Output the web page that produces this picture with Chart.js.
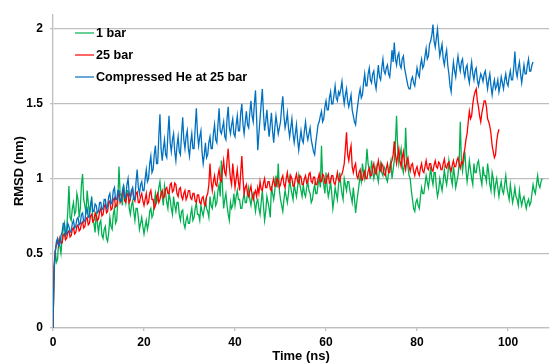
<!DOCTYPE html>
<html>
<head>
<meta charset="utf-8">
<script src="https://cdn.jsdelivr.net/npm/chart.js@4.4.1/dist/chart.umd.min.js"></script>
<style>
  html, body { margin: 0; padding: 0; background: #fff; }
  #wrap { width: 550px; height: 364px; }
</style>
</head>
<body>
<div id="wrap"><canvas id="chart" width="550" height="364"></canvas></div>
<script>
const timeStep = 0.25

const seriesNames = ['1 bar', '25 bar', 'Compressed He at 25 bar']

const bar1 = [
  0, 0.38, 0.52, 0.44, 0.46, 0.58, 0.55, 0.5, 0.6, 0.66, 0.7, 0.62, 0.66, 0.78, 0.95, 0.74, 0.72, 0.8, 0.84, 0.76,
  0.78, 0.9, 0.86, 0.74, 0.8, 0.96, 1.03, 0.86, 0.82, 0.76, 0.92, 0.84, 0.76, 0.82, 0.88, 0.72, 0.7, 0.64, 0.78, 0.7,
  0.64, 0.7, 0.72, 0.62, 0.6, 0.66, 0.68, 0.6, 0.58, 0.64, 0.74, 0.68, 0.66, 0.76, 0.8, 0.7, 0.72, 0.86, 1.08, 0.9,
  0.88, 0.82, 0.96, 0.9, 0.84, 0.92, 0.92, 0.8, 0.76, 0.82, 0.85, 0.78, 0.72, 0.8, 0.8, 0.74, 0.66, 0.7, 0.74, 0.68,
  0.63, 0.68, 0.72, 0.66, 0.7, 0.78, 0.8, 0.74, 0.76, 0.84, 0.9, 0.84, 0.86, 0.94, 0.98, 0.9, 0.88, 0.82, 0.95, 0.9,
  0.84, 0.8, 0.9, 0.86, 0.8, 0.76, 0.88, 0.82, 0.78, 0.84, 0.84, 0.76, 0.72, 0.78, 0.79, 0.7, 0.67, 0.72, 0.75, 0.7,
  0.7, 0.76, 0.8, 0.72, 0.74, 0.8, 0.84, 0.76, 0.76, 0.72, 0.82, 0.78, 0.75, 0.8, 0.85, 0.8, 0.78, 0.74, 0.88, 0.82,
  0.8, 0.86, 0.9, 0.82, 0.84, 0.92, 0.96, 0.88, 1.12, 0.94, 0.8, 0.86, 0.9, 0.82, 0.76, 0.72, 0.84, 0.8, 0.82, 0.9,
  0.82, 0.88, 0.92, 0.86, 0.86, 0.8, 0.8, 0.86, 0.9, 0.84, 0.84, 0.9, 0.94, 0.86, 0.82, 0.88, 0.9, 0.84, 0.78, 0.84,
  0.86, 0.8, 0.76, 0.84, 0.92, 0.82, 0.72, 0.78, 0.88, 0.84, 0.8, 0.74, 0.95, 0.9, 0.86, 0.92, 1.02, 0.94, 1.1, 0.92,
  0.86, 0.82, 0.78, 0.86, 0.92, 0.88, 0.84, 0.9, 1.0, 0.94, 0.9, 0.86, 0.96, 0.92, 0.88, 0.94, 1.02, 0.96, 0.92, 0.88,
  0.96, 0.9, 0.88, 0.94, 0.98, 0.92, 0.9, 0.84, 0.86, 0.92, 0.96, 0.9, 0.9, 0.96, 1.0, 0.94, 1.22, 1.0, 0.96, 0.9,
  1.04, 0.94, 0.88, 0.92, 0.98, 0.9, 0.8, 0.86, 0.94, 0.9, 0.86, 0.96, 1.04, 0.96, 0.9, 0.86, 1.0, 0.96, 0.92, 0.98,
  0.98, 0.92, 0.88, 0.84, 0.94, 0.86, 0.77, 0.84, 0.9, 0.96, 1.02, 0.98, 1.1, 1.04, 1.0, 1.08, 1.2, 1.1, 1.06, 1.0,
  1.12, 1.06, 1.0, 1.04, 1.08, 1.02, 0.98, 1.06, 1.1, 1.04, 1.02, 1.08, 1.06, 1.0, 0.98, 1.04, 1.08, 1.12, 1.0, 1.06,
  1.12, 1.24, 1.42, 1.2, 1.1, 1.16, 1.2, 1.08, 1.04, 1.1, 1.34, 1.14, 1.08, 1.02, 1.0, 0.92, 0.86, 0.8, 0.78, 0.84,
  0.86, 0.82, 0.8, 0.88, 0.94, 0.9, 0.9, 0.96, 1.02, 0.98, 0.94, 1.0, 1.08, 1.0, 0.96, 1.04, 1.04, 0.94, 0.88, 0.92,
  1.0, 0.96, 0.92, 0.98, 1.06, 1.0, 0.96, 1.02, 1.12, 1.06, 1.0, 0.96, 1.08, 1.02, 0.94, 0.98, 1.02, 1.1, 1.38, 1.12,
  1.05, 1.12, 1.18, 1.06, 0.98, 1.04, 1.12, 1.06, 1.0, 0.96, 1.1, 1.04, 1.04, 1.1, 1.12, 1.06, 1.0, 0.96, 1.08, 1.02,
  1.02, 0.98, 1.1, 1.04, 0.96, 0.92, 1.04, 1.0, 0.9, 0.96, 1.0, 0.94, 0.88, 0.94, 0.98, 0.92, 0.9, 0.96, 1.02, 0.94,
  0.9, 0.86, 0.96, 0.9, 0.84, 0.88, 0.94, 0.88, 0.86, 0.82, 0.92, 0.86, 0.82, 0.86, 0.88, 0.84, 0.8, 0.84, 0.86, 0.82,
  0.84, 0.9, 0.96, 0.92, 0.9, 0.96, 1.02, 0.96, 0.94, 0.98, 1.0
]

const bar25 = [
  0, 0.42, 0.52, 0.56, 0.58, 0.55, 0.6, 0.57, 0.57, 0.62, 0.63, 0.59, 0.6, 0.64, 0.65, 0.61, 0.62, 0.66, 0.67, 0.63,
  0.64, 0.68, 0.69, 0.65, 0.66, 0.7, 0.71, 0.67, 0.68, 0.73, 0.74, 0.69, 0.7, 0.75, 0.76, 0.71, 0.72, 0.77, 0.75, 0.72,
  0.73, 0.78, 0.8, 0.75, 0.76, 0.81, 0.83, 0.77, 0.78, 0.84, 0.85, 0.79, 0.8, 0.86, 0.87, 0.81, 0.82, 0.88, 0.9, 0.84,
  0.86, 0.9, 0.92, 0.85, 0.84, 0.89, 0.9, 0.84, 0.86, 0.92, 0.93, 0.87, 0.85, 0.9, 0.91, 0.84, 0.84, 0.88, 0.9, 0.85,
  0.82, 0.86, 0.9, 0.83, 0.84, 0.9, 0.92, 0.86, 0.86, 0.8, 0.82, 0.88, 0.9, 0.84, 0.86, 0.9, 0.92, 0.87, 0.88, 0.93,
  0.94, 0.9, 0.9, 0.96, 0.97, 0.91, 0.92, 0.97, 0.96, 0.9, 0.88, 0.93, 0.94, 0.88, 0.86, 0.9, 0.92, 0.86, 0.88, 0.92,
  0.92, 0.87, 0.86, 0.9, 0.9, 0.85, 0.84, 0.89, 0.89, 0.84, 0.83, 0.87, 0.88, 0.83, 0.82, 0.88, 0.9, 0.96, 1.1, 0.98,
  0.92, 0.98, 1.02, 0.96, 0.95, 1.02, 1.06, 0.99, 0.98, 1.06, 1.12, 1.04, 1.02, 1.12, 1.2, 1.08, 1.0, 0.96, 1.1, 1.02,
  0.94, 1.0, 1.06, 0.98, 0.92, 1.04, 1.15, 1.0, 0.9, 0.94, 0.96, 0.9, 0.88, 0.92, 0.95, 0.89, 0.86, 0.9, 0.92, 0.88,
  0.94, 0.9, 0.98, 0.93, 0.92, 0.97, 1.0, 0.94, 0.94, 0.98, 0.98, 0.93, 0.92, 0.97, 1.0, 0.95, 0.95, 1.0, 0.99, 0.94,
  0.96, 1.0, 1.02, 0.96, 0.94, 1.0, 1.04, 0.98, 0.97, 1.02, 1.0, 0.95, 0.95, 1.0, 1.03, 0.98, 0.97, 1.02, 1.01, 0.96,
  0.96, 1.0, 1.02, 0.97, 0.98, 1.03, 1.04, 0.98, 0.97, 1.01, 1.01, 0.96, 0.96, 1.0, 1.03, 0.98, 0.98, 1.03, 1.02, 0.97,
  0.97, 1.01, 1.03, 0.97, 0.98, 1.02, 1.02, 0.97, 0.96, 1.0, 1.04, 0.99, 0.98, 1.02, 1.03, 1.06, 1.1, 1.2, 1.31, 1.16,
  1.12, 1.18, 1.22, 1.08, 1.04, 1.08, 1.1, 1.02, 1.0, 1.04, 1.06, 1.0, 0.99, 1.03, 1.05, 1.0, 1.0, 1.05, 1.07, 1.02,
  1.02, 1.07, 1.1, 1.04, 1.03, 1.08, 1.12, 1.06, 1.05, 1.1, 1.08, 1.03, 1.02, 1.07, 1.1, 1.04, 1.04, 1.1, 1.12, 1.16,
  1.25, 1.16, 1.1, 1.15, 1.2, 1.12, 1.08, 1.14, 1.18, 1.1, 1.06, 1.12, 1.14, 1.08, 1.05, 1.09, 1.1, 1.05, 1.02, 1.06,
  1.08, 1.04, 1.02, 1.07, 1.1, 1.05, 1.04, 1.08, 1.12, 1.07, 1.06, 1.1, 1.1, 1.06, 1.05, 1.09, 1.12, 1.08, 1.07, 1.11,
  1.1, 1.06, 1.06, 1.1, 1.13, 1.08, 1.07, 1.1, 1.11, 1.07, 1.05, 1.09, 1.12, 1.08, 1.08, 1.12, 1.14, 1.1, 1.07, 1.11,
  1.1, 1.16, 1.2, 1.26, 1.3, 1.38, 1.45, 1.4, 1.42, 1.5, 1.55, 1.58, 1.6, 1.52, 1.48, 1.42, 1.38, 1.44, 1.48, 1.52,
  1.52, 1.48, 1.4, 1.38, 1.35, 1.3, 1.22, 1.18, 1.14, 1.16, 1.25, 1.3, 1.33
]

const heliumBar25 = [
  0, 0.4, 0.5, 0.58, 0.6, 0.55, 0.56, 0.62, 0.64, 0.7, 0.7, 0.62, 0.63, 0.7, 0.68, 0.64, 0.65, 0.7, 0.72, 0.67,
  0.68, 0.73, 0.74, 0.69, 0.7, 0.76, 0.77, 0.71, 0.72, 0.78, 0.8, 0.74, 0.75, 0.82, 0.86, 0.78, 0.78, 0.83, 0.82, 0.77,
  0.78, 0.84, 0.84, 0.79, 0.8, 0.86, 0.86, 0.8, 0.82, 0.88, 0.9, 0.83, 0.84, 0.92, 0.94, 0.86, 0.86, 0.92, 0.92, 0.85,
  0.85, 0.92, 0.95, 0.87, 0.88, 0.96, 1.0, 0.9, 0.87, 0.92, 0.94, 0.86, 0.86, 0.98, 1.06, 0.94, 0.9, 0.96, 0.98, 0.92,
  0.92, 1.0, 1.06, 0.98, 1.0, 1.1, 1.15, 1.04, 1.06, 1.16, 1.22, 1.1, 1.1, 1.28, 1.43, 1.2, 1.12, 1.2, 1.26, 1.16,
  1.14, 1.3, 1.42, 1.24, 1.18, 1.26, 1.3, 1.18, 1.12, 1.22, 1.28, 1.18, 1.16, 1.3, 1.41, 1.26, 1.2, 1.28, 1.32, 1.2,
  1.15, 1.24, 1.3, 1.2, 1.2, 1.34, 1.47, 1.3, 1.22, 1.28, 1.32, 1.18, 1.1, 1.16, 1.24, 1.14, 1.16, 1.24, 1.28, 1.2,
  1.2, 1.3, 1.36, 1.26, 1.24, 1.36, 1.47, 1.32, 1.3, 1.34, 1.38, 1.28, 1.26, 1.4, 1.48, 1.34, 1.3, 1.36, 1.4, 1.3,
  1.28, 1.36, 1.42, 1.32, 1.32, 1.44, 1.5, 1.36, 1.3, 1.38, 1.45, 1.36, 1.34, 1.44, 1.52, 1.42, 1.38, 1.5, 1.59, 1.4,
  1.19, 1.3, 1.4, 1.5, 1.6, 1.44, 1.32, 1.38, 1.46, 1.36, 1.28, 1.36, 1.44, 1.32, 1.24, 1.34, 1.42, 1.36, 1.3, 1.34,
  1.38, 1.48, 1.55, 1.42, 1.34, 1.38, 1.44, 1.34, 1.28, 1.34, 1.4, 1.3, 1.24, 1.3, 1.36, 1.26, 1.19, 1.26, 1.32, 1.26,
  1.24, 1.32, 1.38, 1.3, 1.26, 1.3, 1.34, 1.26, 1.22, 1.18, 1.16, 1.24, 1.3, 1.36, 1.38, 1.42, 1.45, 1.38, 1.4, 1.48,
  1.52, 1.46, 1.46, 1.54, 1.58, 1.5, 1.5, 1.56, 1.62, 1.54, 1.52, 1.58, 1.56, 1.6, 1.65, 1.56, 1.5, 1.56, 1.6, 1.52,
  1.48, 1.52, 1.56, 1.46, 1.42, 1.38, 1.36, 1.44, 1.5, 1.56, 1.6, 1.54, 1.56, 1.64, 1.7, 1.62, 1.62, 1.7, 1.74, 1.66,
  1.64, 1.7, 1.72, 1.64, 1.6, 1.68, 1.76, 1.68, 1.66, 1.74, 1.8, 1.72, 1.7, 1.74, 1.76, 1.7, 1.68, 1.76, 1.86, 1.78,
  1.91, 1.8, 1.76, 1.82, 1.84, 1.76, 1.74, 1.8, 1.82, 1.74, 1.7, 1.66, 1.62, 1.6, 1.6, 1.66, 1.68, 1.64, 1.62, 1.68,
  1.74, 1.7, 1.68, 1.76, 1.8, 1.74, 1.76, 1.82, 1.87, 1.8, 1.82, 1.9, 1.92, 1.96, 2.03, 1.92, 1.88, 1.94, 2.0, 1.9,
  1.82, 1.86, 1.9, 1.8, 1.76, 1.82, 1.86, 1.76, 1.7, 1.62, 1.58, 1.7, 1.78, 1.72, 1.68, 1.76, 1.82, 1.76, 1.72, 1.78,
  1.8, 1.72, 1.68, 1.74, 1.76, 1.68, 1.64, 1.72, 1.78, 1.7, 1.66, 1.72, 1.74, 1.66, 1.62, 1.66, 1.7, 1.68, 1.65, 1.7,
  1.72, 1.66, 1.6, 1.66, 1.7, 1.62, 1.56, 1.62, 1.66, 1.6, 1.62, 1.66, 1.58, 1.62, 1.68, 1.64, 1.6, 1.66, 1.7, 1.64,
  1.62, 1.68, 1.72, 1.66, 1.66, 1.74, 1.85, 1.72, 1.68, 1.74, 1.78, 1.7, 1.64, 1.7, 1.76, 1.7, 1.7, 1.76, 1.8, 1.72,
  1.72, 1.76, 1.78
]

const xTicks = [0, 20, 40, 60, 80, 100]
const yTicks = [0, 0.5, 1, 1.5, 2]

const colors = ['#00b050', '#ff0000', '#0070c0']
const gridColor = '#bfbfbf'
const boldFont = (size) => ({ family: '"Liberation Sans", Arial, sans-serif', size, weight: 'bold' })

function toPoints(values) {
  return values.map((v, i) => ({ x: i * timeStep, y: v }))
}

// legend sits inside the plot, top-left, as in the original
const insideLegend = {
  id: 'insideLegend',
  afterDraw(chart) {
    const { ctx, chartArea } = chart
    const x0 = chartArea.left + 22
    const rowY = [33, 55, 77]
    ctx.save()
    ctx.font = 'bold 12.6px "Liberation Sans", Arial, sans-serif'
    ctx.textBaseline = 'middle'
    ctx.fillStyle = '#000'
    seriesNames.forEach((name, i) => {
      ctx.strokeStyle = colors[i]
      ctx.globalAlpha = 0.6
      ctx.lineWidth = 2
      ctx.beginPath()
      ctx.moveTo(x0, rowY[i])
      ctx.lineTo(x0 + 19, rowY[i])
      ctx.stroke()
      ctx.globalAlpha = 1
      ctx.fillText(name, x0 + 21, rowY[i] + 1)
    })
    ctx.restore()
  }
}

const datasets = [bar1, bar25, heliumBar25].map((values, i) => ({
  label: seriesNames[i],
  data: toPoints(values),
  borderColor: colors[i],
  borderWidth: 1.3,
  pointRadius: 0,
  tension: 0,
  fill: false,
  order: 2 - i
}))

const canvas = document.getElementById('chart')
new Chart(canvas.getContext('2d'), {
  type: 'line',
  data: { datasets },
  plugins: [insideLegend],
  options: {
    responsive: false,
    animation: false,
    events: [],
    layout: { padding: { top: 8, right: 1, left: 0, bottom: 0 } },
    plugins: { legend: { display: false }, tooltip: { enabled: false } },
    scales: {
      x: {
        type: 'linear',
        min: 0,
        max: 109,
        afterBuildTicks: (scale) => { scale.ticks = xTicks.map(v => ({ value: v })) },
        afterFit: (scale) => { scale.height = 36 },
        ticks: { font: boldFont(12), color: '#000', padding: 4, maxRotation: 0 },
        grid: { drawOnChartArea: false, drawTicks: true, tickLength: 3, color: gridColor, lineWidth: 1.3 },
        border: { color: gridColor, width: 1.3 },
        title: { display: true, text: 'Time (ns)', font: boldFont(13), color: '#000', padding: { top: 0, bottom: 0 } }
      },
      y: {
        type: 'linear',
        min: 0,
        max: 2.1,
        afterBuildTicks: (scale) => { scale.ticks = yTicks.map(v => ({ value: v })) },
        afterFit: (scale) => { scale.width = 53 },
        ticks: { font: boldFont(12), color: '#000', padding: 7, callback: (v) => String(v) },
        grid: { drawTicks: true, tickLength: 3, color: gridColor, lineWidth: 1.3 },
        border: { color: gridColor, width: 1.3 },
        title: { display: true, text: 'RMSD (nm)', font: boldFont(13), color: '#000', padding: { top: 12, bottom: 0 } }
      }
    }
  }
})
</script>
</body>
</html>
